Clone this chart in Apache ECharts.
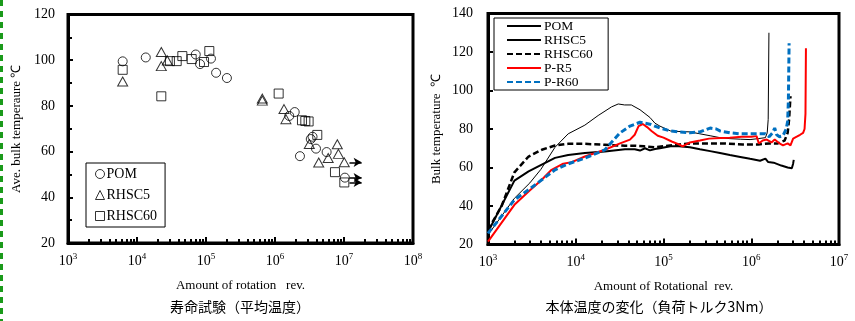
<!DOCTYPE html>
<html><head><meta charset="utf-8">
<script src="https://cdn.jsdelivr.net/npm/echarts@6/dist/echarts.min.js"></script>
<style>html,body{margin:0;padding:0;background:#fff}#c{width:855px;height:321px}</style>
</head><body><div id="c"></div>
<script>
// ---------- Left chart: life test (average bulk temperature) ----------
const lifeTitle = '寿命試験（平均温度）';
const pomLife = [[6200,99.5],[13400,101.2],[71000,102.5],[82000,98.3],[118000,100.7],[140000,94.5],[201000,92.2],
  [1.61e6,75.6],[1.93e6,77.3],[2.3e6,58.0],[3.3e6,65.5],[3.5e6,66.5],[3.93e6,61.3],[5.6e6,59.8],[1.03e7,48.6]];
const rhsc5Life = [[6200,90.7],[22500,103.6],[22500,97.4],[27500,99.9],[655000,83.2],[655000,82.3],[1.35e6,78.6],
  [1.44e6,74.2],[3.14e6,63.3],[4.3e6,55.2],[5.9e6,57.2],[8.0e6,63.2],[8.3e6,59.0],[1.01e7,55.3]];
const rhsc60Life = [[6200,95.8],[22500,84.2],[30000,99.6],[37600,99.6],[45400,101.8],[62000,100.5],[93600,99.2],
  [111700,104.0],[1.13e6,85.4],[2.46e6,73.7],[2.75e6,73.4],[3.07e6,73.2],[4.1e6,67.3],[7.4e6,51.0],[1.01e7,46.5]];
// run-out arrows (start x, end x, y)
const pomArrow = [1.2e7, 1.8e7, 48.6];
const rhsc5Arrow = [1.2e7, 1.8e7, 55.3];
const rhsc60Arrow = [1.2e7, 1.8e7, 46.5];
const leftXTicks = [1e3,1e4,1e5,1e6,1e7,1e8];

// ---------- Right chart: bulk temperature change (load torque 3Nm) ----------
const bulkTitle = '本体温度の変化（負荷トルク3Nm）';
const pomRun = [[1000,25],[2000,44],[3000,52],[4000,59],[5800,70.5],[8200,77.5],[12700,82],[18000,87],[25600,91.5],
  [30500,93],[36000,92.5],[43000,92.5],[54000,90],[61500,88],[70000,86],[80000,83],[91000,81.5],[120000,79],
  [150000,78.7],[200000,78.5],[260000,77.5],[340000,76.5],[440000,75.5],[570000,75],[750000,74.7],[970000,74.5],
  [1.2e6,75],[1.45e6,75.5],[1.52e6,78],[1.56e6,85],[1.59e6,130]];
const rhsc5Run = [[1000,26.5],[2000,53.2],[2900,58],[4100,61.5],[5800,65],[8200,66.5],[12700,67.5],[21500,68.3],
  [36400,69.5],[47000,69.5],[54000,68.8],[61500,70],[70000,68.9],[80000,69.6],[91000,70],[120000,71],[150000,71],
  [200000,70.5],[260000,69.5],[340000,68.5],[440000,67.5],[570000,66.5],[750000,65.5],[970000,64.5],[1.26e6,63.5],
  [1.45e6,64.6],[1.56e6,62.8],[1.8e6,62.5],[2.2e6,61],[2.6e6,60],[2.9e6,59.6],[3.0e6,62],[3.05e6,64]];
const rhsc60Run = [[1000,27.5],[1430,40],[2000,57.5],[2900,65.7],[4100,69.2],[5800,71.4],[8200,72.3],[12700,72.3],
  [21500,71.8],[36400,71.3],[47000,71.3],[60000,71],[80000,70.5],[100000,71],[150000,72],[200000,72.5],[300000,72.5],
  [500000,72.5],[800000,72],[1.2e6,72],[1.6e6,72.5],[2e6,72.5],[2.4e6,74],[2.6e6,78],[2.7e6,85],[2.8e6,97]];
const pr5Run = [[1000,21.5],[2000,40.6],[2900,47.5],[4100,53.6],[5300,58.8],[7200,62],[9000,62.8],[12700,65.7],
  [21500,69.2],[32000,72.5],[41500,74.5],[47000,77],[52000,81.5],[58000,82.6],[65000,81],[73000,79],[86000,76.5],
  [100000,75.5],[124000,73.5],[150000,72],[165000,71],[200000,73],[260000,74],[330000,75],[450000,75.3],[570000,75.5],
  [780000,76],[1e6,76],[1.15e6,76.3],[1.22e6,72.5],[1.35e6,74],[1.5e6,74.5],[1.7e6,73],[1.85e6,74.5],[2.1e6,72.5],
  [2.3e6,71.5],[2.6e6,72.5],[2.8e6,71.5],[3e6,75],[3.3e6,76],[3.6e6,77],[3.9e6,78],[4.05e6,80],[4.15e6,88],[4.2e6,122]];
const pr60Run = [[1000,25.8],[2000,43.2],[2900,48.4],[4100,53.6],[5800,58.8],[8200,61.9],[12700,64.9],[21500,69.2],
  [32000,78],[41500,81.5],[54000,83.5],[70000,82.5],[91000,80.5],[120000,79],[150000,78.5],[200000,78],[260000,78.5],
  [340000,80.5],[400000,80],[440000,79],[570000,78],[750000,77.5],[970000,77.5],[1.26e6,77.5],[1.45e6,77.5],
  [1.6e6,76],[1.75e6,78],[1.85e6,80.5],[1.95e6,77],[2.1e6,76],[2.3e6,76.5],[2.5e6,80],[2.6e6,84],[2.65e6,95],[2.7e6,124.5]];
const rightXTicks = [1e3,1e4,1e5,1e6,1e7];

function minorTicks(lo, hi){ const r=[]; for(let d=lo; d<hi; d*=10){ for(let k=2;k<=9;k++) r.push(d*k);} return r; }

const SERIF = 'Liberation Serif';
const CJK = 'Noto Sans CJK JP';
const supLabel = {
  fontFamily: SERIF, color:'#000',
  formatter: v => '{b|10}{s|' + Math.round(Math.log10(v)) + '}',
  rich: { b:{fontSize:14, lineHeight:18, fontFamily:SERIF, color:'#000'},
          s:{fontSize:9, lineHeight:10, verticalAlign:'top', fontFamily:SERIF, color:'#000'} }
};

function mainLogX(gridIndex, min, max, ticks, name, nameGap){
  return { type:'log', logBase:10, gridIndex, min, max, position:'bottom',
    name, nameLocation:'middle', nameGap,
    nameTextStyle:{fontFamily:SERIF, fontSize:13, color:'#000'},
    axisLine:{show:true, onZero:false, lineStyle:{color:'#000', width:3}},
    axisTick:{show:true, inside:true, length:6, customValues:ticks, lineStyle:{color:'#000', width:2}},
    axisLabel:Object.assign({margin:9, customValues:ticks}, supLabel),
    splitLine:{show:false}, minorTick:{show:false}, minorSplitLine:{show:false} };
}
function minorLogX(gridIndex, min, max){
  return { type:'log', logBase:10, gridIndex, min, max, position:'bottom',
    axisLine:{show:false}, axisLabel:{show:false}, splitLine:{show:false},
    axisTick:{show:true, inside:true, length:4, customValues:minorTicks(min,max), lineStyle:{color:'#000', width:2}} };
}
function arrowLine(a){ return { symbol:['none','arrow'], symbolSize:[7,8], silent:true, animation:false,
  label:{show:false}, lineStyle:{color:'#000', width:1.5, type:'solid'},
  data:[[{coord:[a[0],a[2]]},{coord:[a[1],a[2]]}]] }; }
const hollow = {color:'rgba(0,0,0,0)', borderColor:'#000', borderWidth:1};

const option = {
  animation:false,
  backgroundColor:'#fff',
  graphic:[
    {type:'line', shape:{x1:1.5,y1:0,x2:1.5,y2:321}, style:{stroke:'#1a9a1a', lineWidth:3, lineDash:[6,5]}},
    {type:'text', x:240, y:300, style:{text:lifeTitle, font:'14px "'+CJK+'"', fill:'#000', textAlign:'center'}},
    {type:'text', x:659, y:300, style:{text:bulkTitle, font:'14px "'+CJK+'"', fill:'#000', textAlign:'center'}}
  ],
  grid:[
    {left:68, right:442, top:14.5, bottom:78, show:true, borderColor:'#000', borderWidth:3, backgroundColor:'#fff'},
    {left:488, right:16, top:13.5, bottom:76.5, show:true, borderColor:'#000', borderWidth:3, backgroundColor:'#fff'}
  ],
  legend:[
    {orient:'vertical', left:86, top:163, padding:[4,8,4,9], itemGap:7, itemWidth:9, itemHeight:9,
     borderColor:'#000', borderWidth:1, backgroundColor:'#fff',
     itemStyle:{color:'rgba(0,0,0,0)', borderColor:'#000', borderWidth:1},
     textStyle:{fontFamily:SERIF, fontSize:14, color:'#000', padding:[0,0,0,-3]},
     data:['POM','RHSC5','RHSC60']},
    {orient:'vertical', left:494, top:18, padding:[1,12,1,12], itemGap:0, itemWidth:34, itemHeight:14,
     borderColor:'#000', borderWidth:1, backgroundColor:'#fff',
     itemStyle:{opacity:0},
     textStyle:{fontFamily:SERIF, fontSize:13.5, lineHeight:14, color:'#000', padding:[0,0,0,-2]},
     data:['POM ','RHSC5 ','RHSC60 ','P-R5','P-R60']}
  ],
  xAxis:[
    mainLogX(0, 1e3, 1e8, leftXTicks, 'Amount of rotation   rev.', 36),
    minorLogX(0, 1e3, 1e8),
    mainLogX(1, 1e3, 1e7, rightXTicks, 'Amount of Rotational  rev.', 36),
    minorLogX(1, 1e3, 1e7)
  ],
  yAxis:[
    {type:'value', gridIndex:0, min:20, max:120, interval:20,
     name:'Ave. bulk temperaure ℃', nameLocation:'middle', nameGap:45, nameRotate:90,
     nameTextStyle:{fontFamily:SERIF, fontSize:13, color:'#000'},
     axisLine:{show:true, lineStyle:{color:'#000', width:3}},
     axisTick:{show:true, inside:true, length:5, lineStyle:{color:'#000', width:2}},
     minorTick:{show:true, splitNumber:2, length:4, lineStyle:{color:'#000', width:2}},
     axisLabel:{fontFamily:SERIF, fontSize:14, color:'#000', margin:13},
     splitLine:{show:false}},
    {type:'value', gridIndex:1, min:20, max:140, interval:20,
     name:'Bulk temperature  ℃', nameLocation:'middle', nameGap:45, nameRotate:90,
     nameTextStyle:{fontFamily:SERIF, fontSize:13, color:'#000'},
     axisLine:{show:true, lineStyle:{color:'#000', width:3}},
     axisTick:{show:true, inside:true, length:5, lineStyle:{color:'#000', width:2}},
     axisLabel:{fontFamily:SERIF, fontSize:14, color:'#000', margin:15},
     splitLine:{show:false}}
  ],
  series:[
    {name:'POM', type:'scatter', xAxisIndex:0, yAxisIndex:0, symbol:'circle', symbolSize:9, itemStyle:hollow,
     data:pomLife, markLine:arrowLine(pomArrow)},
    {name:'RHSC5', type:'scatter', xAxisIndex:0, yAxisIndex:0, symbol:'triangle', symbolSize:[10,9], itemStyle:hollow,
     data:rhsc5Life, markLine:arrowLine(rhsc5Arrow)},
    {name:'RHSC60', type:'scatter', xAxisIndex:0, yAxisIndex:0, symbol:'rect', symbolSize:9, itemStyle:hollow,
     data:rhsc60Life, markLine:arrowLine(rhsc60Arrow)},

    {name:'POM ', type:'line', xAxisIndex:2, yAxisIndex:1, symbol:'none', color:'#000',
     lineStyle:{color:'#000', width:1}, data:pomRun},
    {name:'RHSC5 ', type:'line', xAxisIndex:2, yAxisIndex:1, symbol:'none', color:'#000',
     lineStyle:{color:'#000', width:2}, data:rhsc5Run},
    {name:'RHSC60 ', type:'line', xAxisIndex:2, yAxisIndex:1, symbol:'none', color:'#000',
     lineStyle:{color:'#000', width:2.5, type:[6,3]}, data:rhsc60Run},
    {name:'P-R5', type:'line', xAxisIndex:2, yAxisIndex:1, symbol:'none', color:'#ff0000',
     lineStyle:{color:'#ff0000', width:2}, data:pr5Run},
    {name:'P-R60', type:'line', xAxisIndex:2, yAxisIndex:1, symbol:'none', color:'#0070c0',
     lineStyle:{color:'#0070c0', width:3, type:[6,3]}, data:pr60Run}
  ]
};
const chart = echarts.init(document.getElementById('c'), null, {renderer:'canvas'});
chart.setOption(option);
</script></body></html>
